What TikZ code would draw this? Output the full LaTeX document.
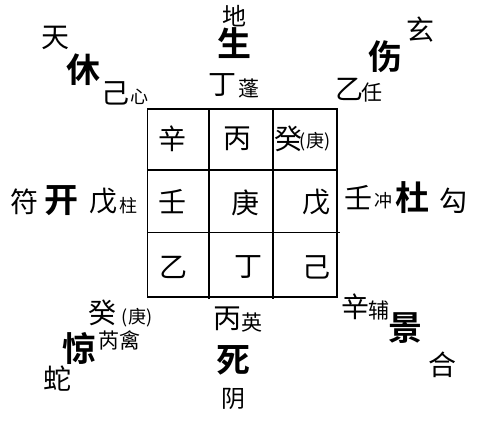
\documentclass[tikz,border=0pt]{standalone}
\usepackage{fontspec}
\newfontfamily\cjk{Noto Sans CJK SC}[BoldFont={Noto Sans CJK SC Bold}]
\begin{document}
\begin{tikzpicture}[x=1pt,y=-1pt,
  t/.style={inner sep=0pt,font=\cjk\fontsize{28pt}{28pt}\selectfont},
  tm/.style={inner sep=0pt,font=\cjk\fontsize{24pt}{24pt}\selectfont},
  ts/.style={inner sep=0pt,font=\cjk\fontsize{21pt}{21pt}\selectfont},
  tx/.style={inner sep=0pt,font=\cjk\fontsize{18pt}{18pt}\selectfont},
  door/.style={inner sep=0pt,font=\cjk\bfseries\fontsize{34pt}{34pt}\selectfont},
  grid/.style={line width=1.6pt,black}]
\useasboundingbox (0,0) rectangle (478,420);
% grid
\draw[grid] (147.3,109) rectangle (336.7,296.7);
\draw[grid] (208.7,109) -- (208.7,299);
\draw[grid] (272.7,109) -- (272.7,299);
\draw[grid] (147.3,170) -- (336.7,170);
\draw[grid] (147.3,232.3) -- (340,232.3);
% cells
\node[t] (c11) at (172,139) {辛};
\node[t] (c12) at (237,139) {丙};
\node[t] (c13) at (288,139) {癸};
\node[tx] (c13b) at (315,142) {(庚)};
\node[t] (c21) at (172,202) {壬};
\node[t] (c22) at (245,203) {庚};
\node[t] (c23) at (316,202) {戊};
\node[t] (c31) at (173,267) {乙};
\node[t] (c32) at (248,267) {丁};
\node[t] (c33) at (316,267) {己};
% top
\node[tm] (di) at (234,16) {地};
\node[door] (sheng) at (234,43) {生};
\node[t] (ding) at (222,85) {丁};
\node[ts] (peng) at (249,88) {蓬};
% top-left
\node[t] (tian) at (55,38) {天};
\node[door] (xiu) at (83,70) {休};
\node[t] (ji) at (115,93) {己};
\node[tx] (xin) at (139,97) {心};
% top-right
\node[t] (xuan) at (420,30) {玄};
\node[door] (shang) at (385,57) {伤};
\node[t] (yi) at (349,89) {乙};
\node[ts] (ren) at (372,93) {任};
% left
\node[t] (fu) at (24,202) {符};
\node[door] (kai) at (61,201) {开};
\node[t] (wu) at (103,201) {戊};
\node[tx] (zhu) at (128,206) {柱};
% right
\node[t] (renb) at (358,198) {壬};
\node[tx] (chong) at (383,201) {冲};
\node[door] (du) at (412,198) {杜};
\node[t] (gou) at (453,201) {勾};
% bottom-left
\node[t] (gui) at (102,313) {癸};
\node[tx] (geng) at (137,318) {(庚)};
\node[ts] (ruiqin) at (119,340) {芮禽};
\node[door] (jing) at (79,348) {惊};
\node[t] (she) at (57,379) {蛇};
% bottom
\node[t] (bing) at (227,319) {丙};
\node[ts] (ying) at (252,323) {英};
\node[door] (si) at (233,360) {死};
\node[tm] (yin) at (233,399) {阴};
% bottom-right
\node[t] (xinb) at (355,307) {辛};
\node[ts] (fub) at (379,310) {辅};
\node[door] (jingb) at (405,328) {景};
\node[t] (he) at (442,365) {合};
\end{tikzpicture}
\end{document}
